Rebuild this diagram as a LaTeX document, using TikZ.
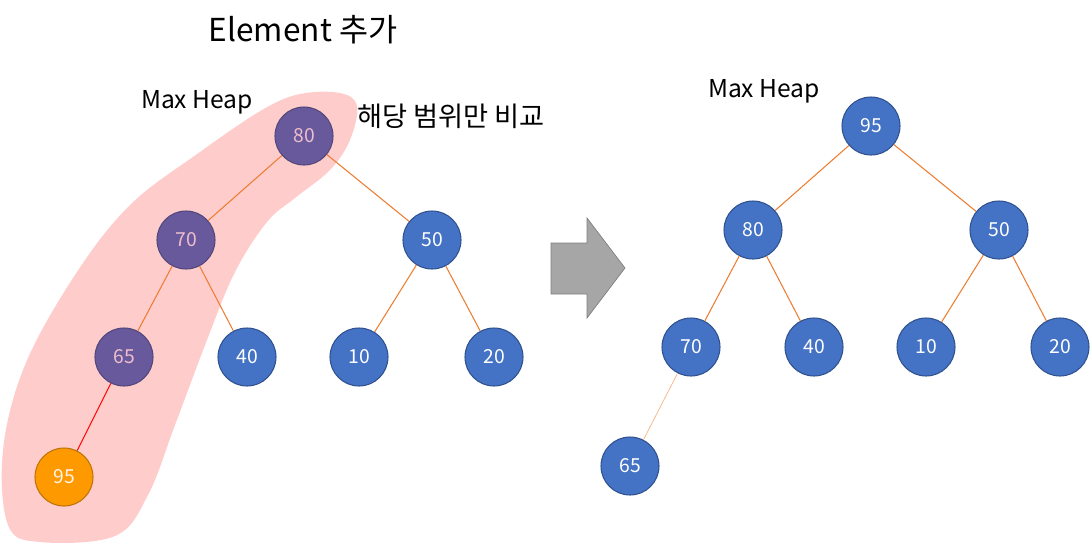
\documentclass[tikz,border=0pt]{standalone}
\usepackage{fontspec}
\setmainfont{Noto Sans CJK KR}
\usepackage{xcolor}
\usetikzlibrary{positioning, calc}
\definecolor{pPurple}{RGB}{103,89,155}
\definecolor{pPurpleText}{RGB}{238,190,205}
\definecolor{pBlue}{RGB}{68,114,196}
\definecolor{pBlueLine}{RGB}{47,82,143}
\definecolor{pOrange}{RGB}{255,153,0}
\definecolor{pOrangeLine}{RGB}{190,115,10}
\definecolor{pEdge}{RGB}{237,125,49}
\definecolor{pEdgeLight}{RGB}{246,178,130}
\definecolor{pPink}{RGB}{255,204,204}
\definecolor{pGrey}{RGB}{166,166,166}
\definecolor{pGreyLine}{RGB}{127,127,127}
\tikzset{
  heapnode/.style={
    circle, minimum size=58*0.02cm, inner sep=0pt,
    line width=0.6pt, font=\fontsize{11pt}{13pt}\selectfont
  },
  bluenode/.style={heapnode, fill=pBlue, draw=pBlueLine, text=white},
  pathnode/.style={heapnode, fill=pPurple, draw=pPurple!80!black, text=pPurpleText},
  newnode/.style={heapnode, fill=pOrange, draw=pOrangeLine, text=white!90!pOrange},
  heapedge/.style={pEdge, line width=0.6pt},
  label/.style={font=\fontsize{14pt}{16pt}\selectfont, inner sep=0pt}
}
\begin{document}
\begin{tikzpicture}[x=0.02cm, y=-0.02cm]
\useasboundingbox (0,0) rectangle (1090,542);
% highlighted compare range
\fill[pPink] plot[smooth cycle, tension=0.6] coordinates {
  (300,94) (340,93) (357,106) (350,140) (330,170) (295,198) (267,222)
  (235,272) (207,340) (175,425) (148,495) (115,536) (40,542) (8,525)
  (3,450) (25,365) (75,275) (130,205) (200,152) (262,110)};
\node[font=\fontsize{18pt}{21pt}\selectfont] (title) at (303,30) {Element 추가};
% left tree
\node[pathnode] (l80) at (304,136) {80};
\node[pathnode] (l70) at (186,240) {70};
\node[bluenode] (l50) at (432,240) {50};
\node[pathnode] (l65) at (124,357) {65};
\node[bluenode] (l40) at (247,357) {40};
\node[bluenode] (l10) at (359,357) {10};
\node[bluenode] (l20) at (494,357) {20};
\node[newnode] (l95) at (64,477) {95};
\draw[heapedge] (l80) -- (l70);
\draw[heapedge] (l80) -- (l50);
\draw[heapedge] (l70) -- (l65);
\draw[heapedge] (l70) -- (l40);
\draw[heapedge] (l50) -- (l10);
\draw[heapedge] (l50) -- (l20);
\draw[red, line width=0.6pt] (l65) -- (l95);
\node[label] (leftname) at (197,102) {Max Heap};
\node[label, font=\fontsize{15.5pt}{18pt}\selectfont] (rangenote) at (451,116) {해당 범위만 비교};
% arrow
\draw[fill=pGrey, draw=pGreyLine, line width=0.4pt]
  (551,243) -- (587,243) -- (587,218) -- (625,268) -- (587,318) -- (587,294) -- (551,294) -- cycle;
% right tree
\node[bluenode] (r95) at (871,126) {95};
\node[bluenode] (r80) at (753,230) {80};
\node[bluenode] (r50) at (999,230) {50};
\node[bluenode] (r70) at (691,347) {70};
\node[bluenode] (r40) at (814,347) {40};
\node[bluenode] (r10) at (926,347) {10};
\node[bluenode] (r20) at (1060,347) {20};
\node[bluenode] (r65) at (630,466) {65};
\draw[heapedge] (r95) -- (r80);
\draw[heapedge] (r95) -- (r50);
\draw[heapedge] (r80) -- (r70);
\draw[heapedge] (r80) -- (r40);
\draw[heapedge] (r50) -- (r10);
\draw[heapedge] (r50) -- (r20);
\draw[pEdgeLight, line width=0.4pt] (r70) -- (r65);
\node[label] (rightname) at (764,91) {Max Heap};
\end{tikzpicture}
\end{document}
